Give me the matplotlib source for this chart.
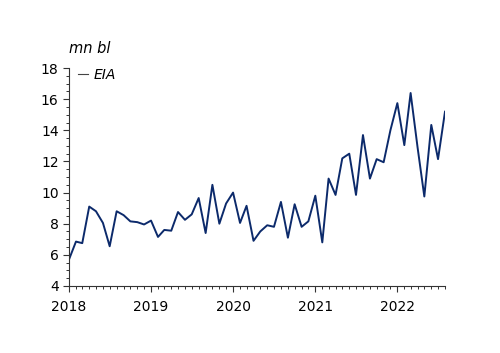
import numpy as np
import pandas as pd
import matplotlib
matplotlib.use("Agg")
import matplotlib.pyplot as plt
import matplotlib.dates as mdates
from matplotlib.ticker import MultipleLocator

# monthly series, mn bl
dates = pd.date_range("2018-01-01", periods=56, freq="MS")
eia = [5.7, 6.85, 6.75, 9.1, 8.8, 8.05, 6.55, 8.8, 8.55, 8.15, 8.1, 7.95,
       8.2, 7.15, 7.6, 7.55, 8.75, 8.25, 8.6, 9.65, 7.4, 10.5, 8.0, 9.3,
       10.0, 8.05, 9.15, 6.9, 7.5, 7.9, 7.8, 9.4, 7.1, 9.25, 7.8, 8.15,
       9.8, 6.8, 10.9, 9.85, 12.2, 12.5, 9.85, 13.7, 10.9, 12.15,
       11.95, 14.0, 15.75, 13.05, 16.4, 12.9, 9.75, 14.35, 12.15, 15.2]
years = [2018, 2019, 2020, 2021, 2022]

plt.rcParams['font.family'] = ['DejaVu Sans']
fig = plt.figure(figsize=(5, 3.53), dpi=100)
ax = fig.add_axes([0.138, 0.19, 0.752, 0.617])

ax.plot(dates, eia, color="#0c2a6b", lw=1.4, label="EIA")

ax.set_ylim(4, 18)
ax.yaxis.set_major_locator(MultipleLocator(2))
ax.yaxis.set_minor_locator(MultipleLocator(0.5))
ax.set_xlim(dates[0], dates[-1])
ax.xaxis.set_major_locator(mdates.YearLocator())
ax.xaxis.set_minor_locator(mdates.MonthLocator())
ax.xaxis.set_major_formatter(mdates.DateFormatter("%Y"))

for s in ["top", "right"]:
    ax.spines[s].set_visible(False)
for s in ["left", "bottom"]:
    ax.spines[s].set_color("#333333")
    ax.spines[s].set_linewidth(0.8)

ax.tick_params(axis="both", which="major", labelsize=10, color="#333333",
               length=4, width=0.8, direction="out")
ax.tick_params(axis="both", which="minor", color="#333333", length=2.5, width=0.7)
ax.tick_params(axis="x", pad=6)

ax.text(0.0, 1.07, "mn bl", transform=ax.transAxes, fontsize=10.5,
        style="italic", ha="left", va="baseline")
leg = ax.legend(loc="upper left", frameon=False, handlelength=0.7,
                handletextpad=0.4, prop={"style": "italic", "size": 10},
                borderaxespad=0.0, bbox_to_anchor=(0.01, 1.025))
leg.legend_handles[0].set_linewidth(0.8)
leg.legend_handles[0].set_color("#444444")

fig.savefig("out.png", dpi=100)
